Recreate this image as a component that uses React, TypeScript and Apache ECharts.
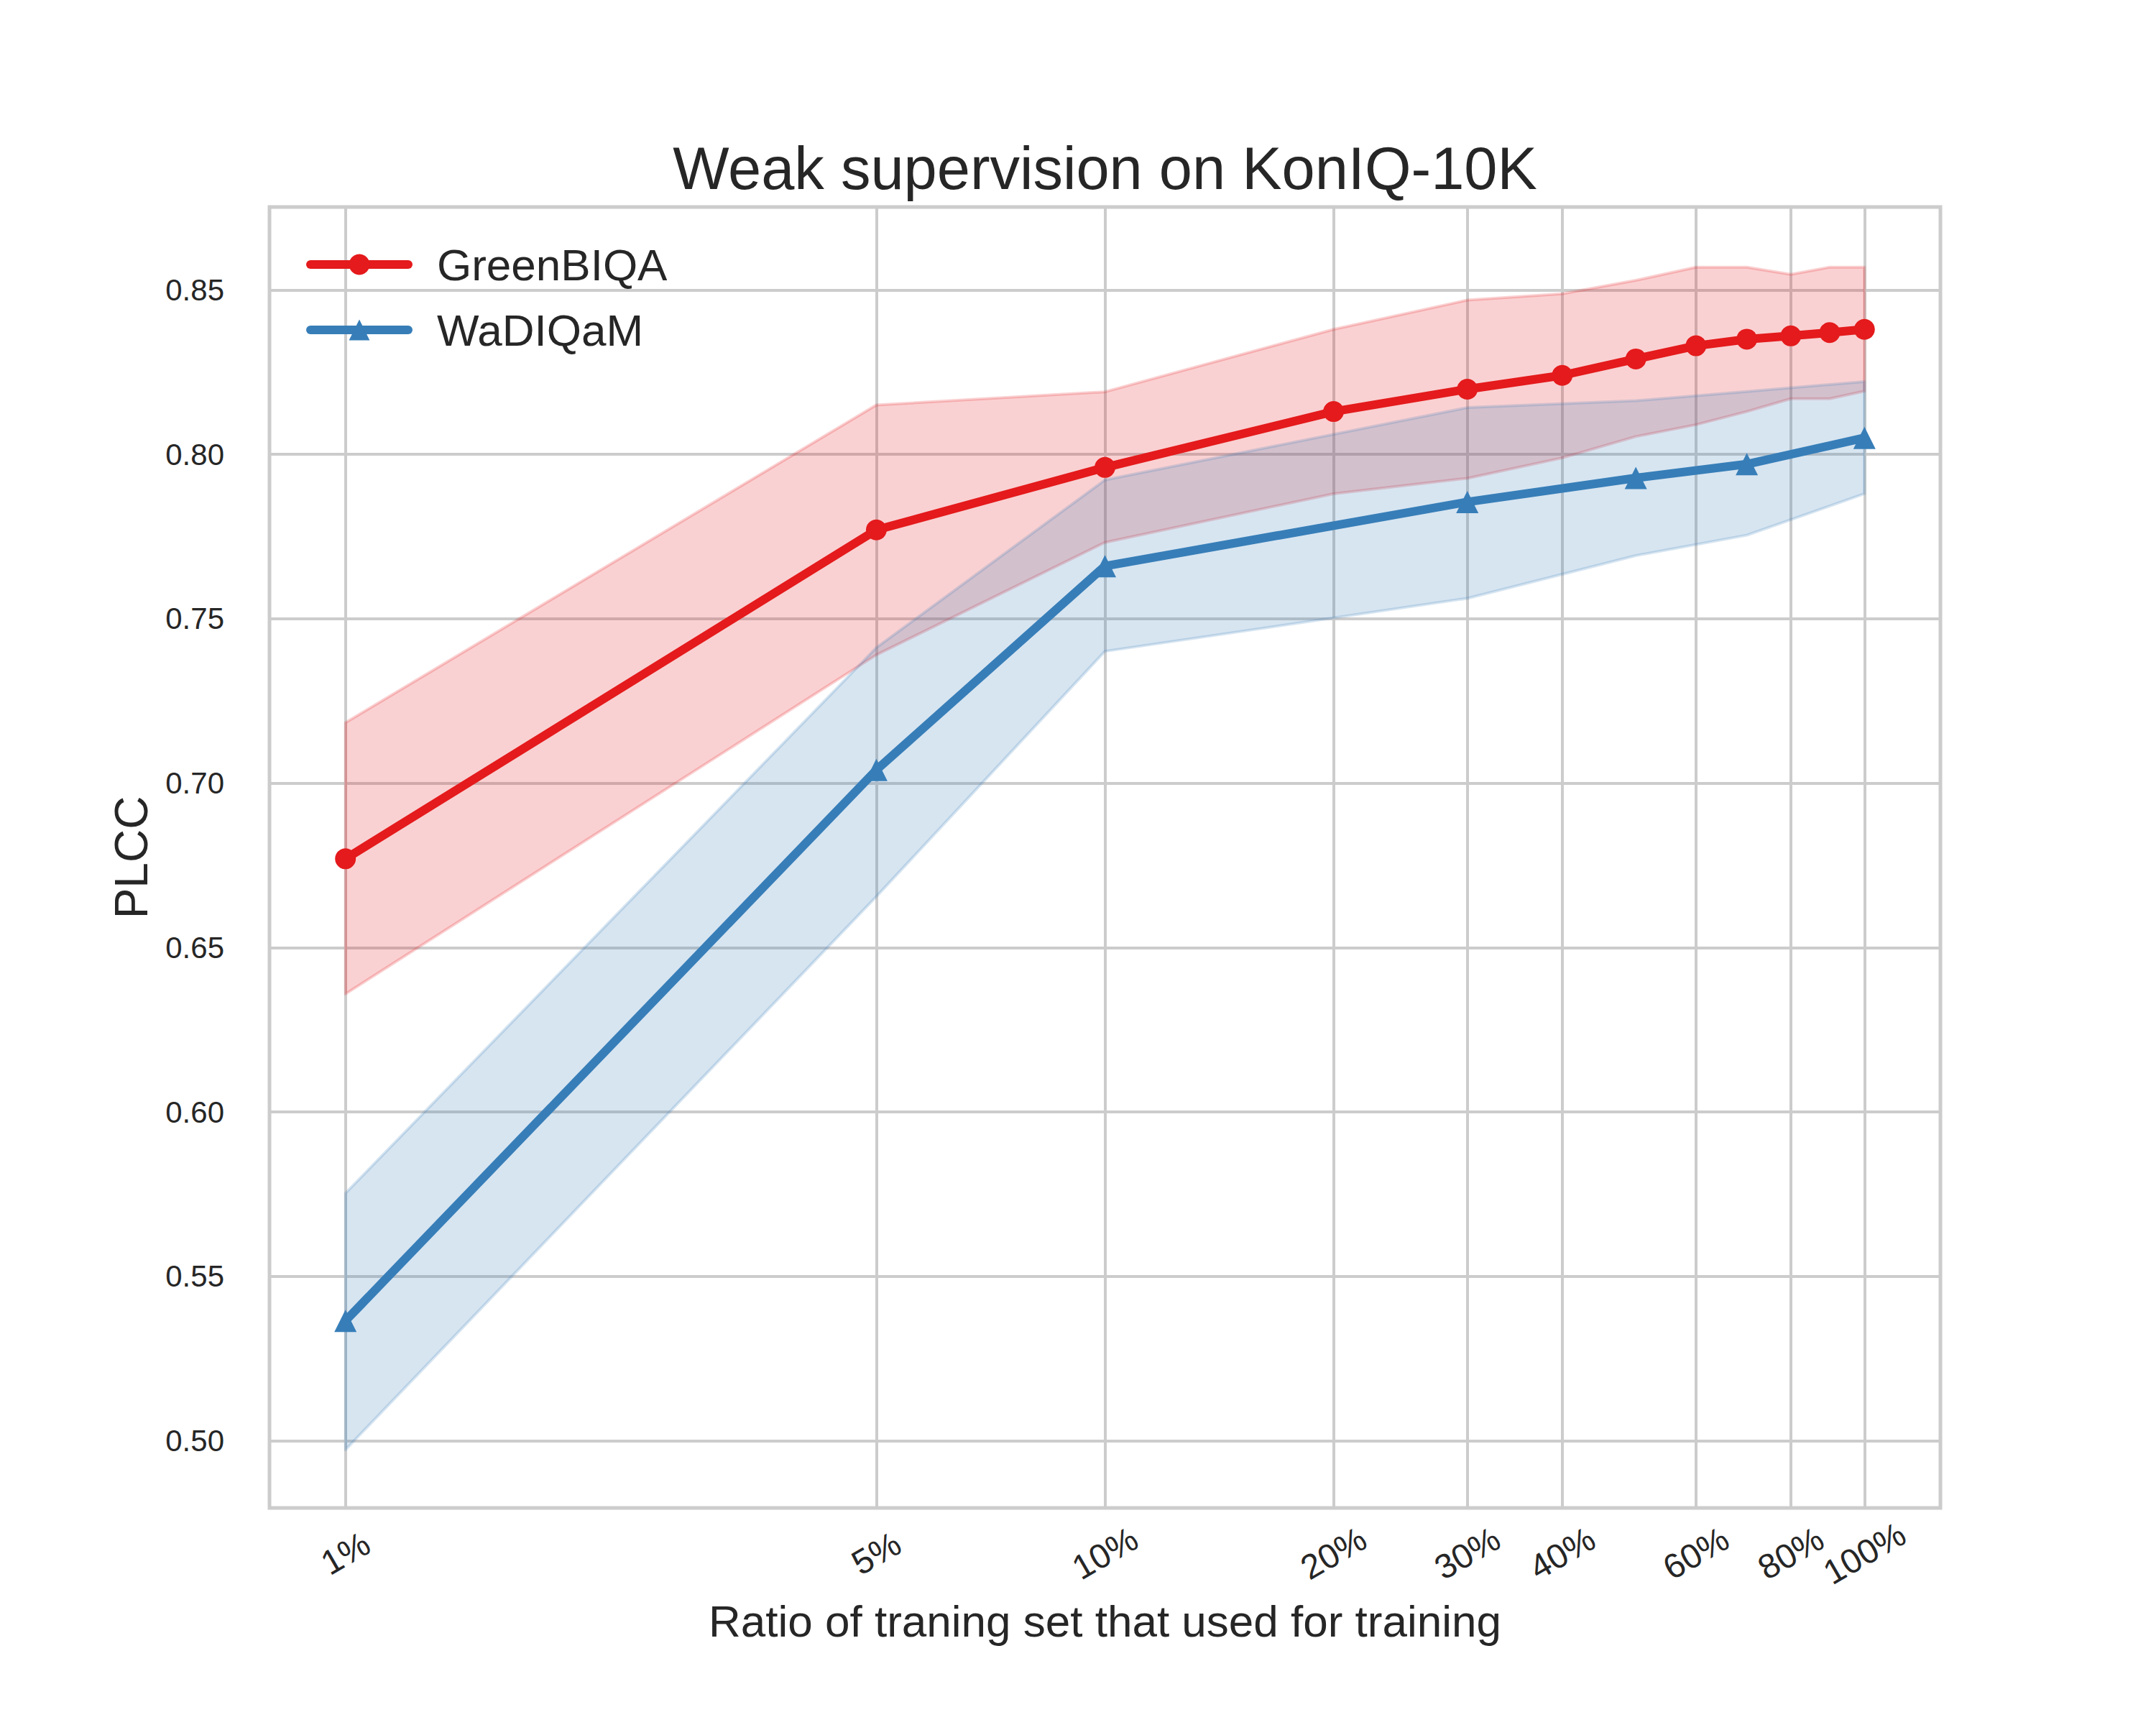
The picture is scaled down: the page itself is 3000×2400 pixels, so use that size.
import React, { useEffect, useRef } from "react";
import * as echarts from "echarts";

const TITLE = "Weak supervision on KonIQ-10K";
const X_NAME = "Ratio of traning set that used for training";
const Y_NAME = "PLCC";

const greenX = [1, 5, 10, 20, 30, 40, 50, 60, 70, 80, 90, 100];
const greenMean = [0.677, 0.777, 0.796, 0.813, 0.8198, 0.824, 0.829, 0.833, 0.835, 0.836, 0.837, 0.838];
const greenUpper = [0.7184, 0.815, 0.819, 0.838, 0.8469, 0.8488, 0.8529, 0.8569, 0.8569, 0.8547, 0.8569, 0.8569];
const greenLower = [0.6359, 0.739, 0.7732, 0.788, 0.7927, 0.7989, 0.8054, 0.809, 0.813, 0.8169, 0.8169, 0.8192];

const wadX = [1, 5, 10, 30, 50, 70, 100];
const wadMean = [0.5365, 0.704, 0.766, 0.7855, 0.7928, 0.797, 0.805];
const wadUpper = [0.5753, 0.7412, 0.7922, 0.8142, 0.8163, 0.8191, 0.8221];
const wadLower = [0.4973, 0.6655, 0.7401, 0.7562, 0.7692, 0.7754, 0.788];

const xTicks = [1, 5, 10, 20, 30, 40, 60, 80, 100];
const yTicks = [0.5, 0.55, 0.6, 0.65, 0.7, 0.75, 0.8, 0.85];

const RED = "#e41a1c";
const BLUE = "#377eb8";
const TEXT = "#262626";
const GRIDC = "#cccccc";
const FONT = "'Liberation Sans', Arial, Helvetica, sans-serif";

function bandSeries(name: string, xs: number[], up: number[], lo: number[], rgb: string) {
  return {
    name,
    type: "custom",
    z: 1,
    silent: true,
    encode: { x: 0, y: 1 },
    data: [[xs[0], up[0]]],
    renderItem: (_params: any, api: any) => {
      const pts: number[][] = [];
      for (let i = 0; i < xs.length; i++) pts.push(api.coord([xs[i], up[i]]));
      for (let i = xs.length - 1; i >= 0; i--) pts.push(api.coord([xs[i], lo[i]]));
      return {
        type: "polygon",
        shape: { points: pts },
        style: {
          fill: `rgba(${rgb},0.2)`,
          stroke: `rgba(${rgb},0.2)`,
          lineWidth: 4,
          lineJoin: "round",
        },
      };
    },
  };
}

export default function App() {
  const ref = useRef<HTMLDivElement>(null);
  useEffect(() => {
    if (!ref.current) return;
    const chart = echarts.init(ref.current, undefined, { renderer: "svg" });
    const option: any = {
      animation: false,
      backgroundColor: "#ffffff",
      textStyle: { fontFamily: FONT, color: TEXT },
      graphic: [
        {
          type: "text",
          x: 1537.5,
          y: 234,
          style: {
            text: TITLE,
            fill: TEXT,
            font: `83px ${FONT}`,
            textAlign: "center",
            textVerticalAlign: "middle",
          },
        },
      ],
      grid: {
        left: 375,
        right: 300,
        top: 288,
        bottom: 302,
        show: true,
        borderColor: GRIDC,
        borderWidth: 5,
        backgroundColor: "transparent",
        containLabel: false,
        outerBoundsMode: "none",
      },
      legend: {
        data: ["GreenBIQA", "WaDIQaM"],
        orient: "vertical",
        left: 426,
        top: 336,
        padding: 0,
        itemWidth: 136,
        itemHeight: 36,
        itemGap: 27,
        selectedMode: false,
        lineStyle: { width: 12, cap: "round" },
        textStyle: {
          fontSize: 62,
          lineHeight: 64,
          color: TEXT,
          fontFamily: FONT,
          padding: [0, 0, 0, 35],
        },
      },
      xAxis: {
        type: "log",
        logBase: 10,
        min: Math.pow(10, -0.1),
        max: Math.pow(10, 2.1),
        name: X_NAME,
        nameLocation: "middle",
        nameGap: 126,
        nameMoveOverlap: false,
        nameTextStyle: { fontSize: 62, color: TEXT, fontFamily: FONT },
        axisLine: { show: false },
        axisTick: { show: false, customValues: xTicks },
        minorTick: { show: false },
        minorSplitLine: { show: false },
        axisLabel: {
          customValues: xTicks,
          rotate: 30,
          align: "center",
          verticalAlign: "middle",
          margin: 63,
          fontSize: 48,
          color: TEXT,
          fontFamily: FONT,
          formatter: (v: number) => `${Math.round(v)}%`,
        },
        splitLine: { show: true, lineStyle: { color: GRIDC, width: 4 } },
      },
      yAxis: {
        type: "value",
        min: 0.4796,
        max: 0.8752,
        name: Y_NAME,
        nameLocation: "middle",
        nameGap: 160,
        nameMoveOverlap: false,
        nameTextStyle: { fontSize: 64, color: TEXT, fontFamily: FONT },
        axisLine: { show: false },
        axisTick: { show: false, customValues: yTicks },
        axisLabel: {
          customValues: yTicks,
          margin: 63,
          fontSize: 42,
          color: TEXT,
          fontFamily: FONT,
          formatter: (v: number) => v.toFixed(2),
        },
        splitLine: { show: true, lineStyle: { color: GRIDC, width: 4 } },
      },
      series: [
        bandSeries("GreenBIQA band", greenX, greenUpper, greenLower, "228,26,28"),
        bandSeries("WaDIQaM band", wadX, wadUpper, wadLower, "55,126,184"),
        {
          name: "GreenBIQA",
          type: "line",
          z: 3,
          data: greenX.map((x, i) => [x, greenMean[i]]),
          symbol: "circle",
          symbolSize: 29,
          showAllSymbol: true,
          lineStyle: { color: RED, width: 12, cap: "round", join: "round" },
          itemStyle: { color: RED, borderWidth: 0 },
          emphasis: { disabled: true },
        },
        {
          name: "WaDIQaM",
          type: "line",
          z: 3,
          data: wadX.map((x, i) => [x, wadMean[i]]),
          symbol: "triangle",
          symbolSize: 31,
          showAllSymbol: true,
          lineStyle: { color: BLUE, width: 12, cap: "round", join: "round" },
          itemStyle: { color: BLUE, borderWidth: 0 },
          emphasis: { disabled: true },
        },
      ],
    };
    chart.setOption(option);
    return () => chart.dispose();
  }, []);
  return (
    <div
      ref={ref}
      style={{ position: "absolute", left: 0, top: 0, width: 3000, height: 2400, background: "#fff" }}
    />
  );
}
